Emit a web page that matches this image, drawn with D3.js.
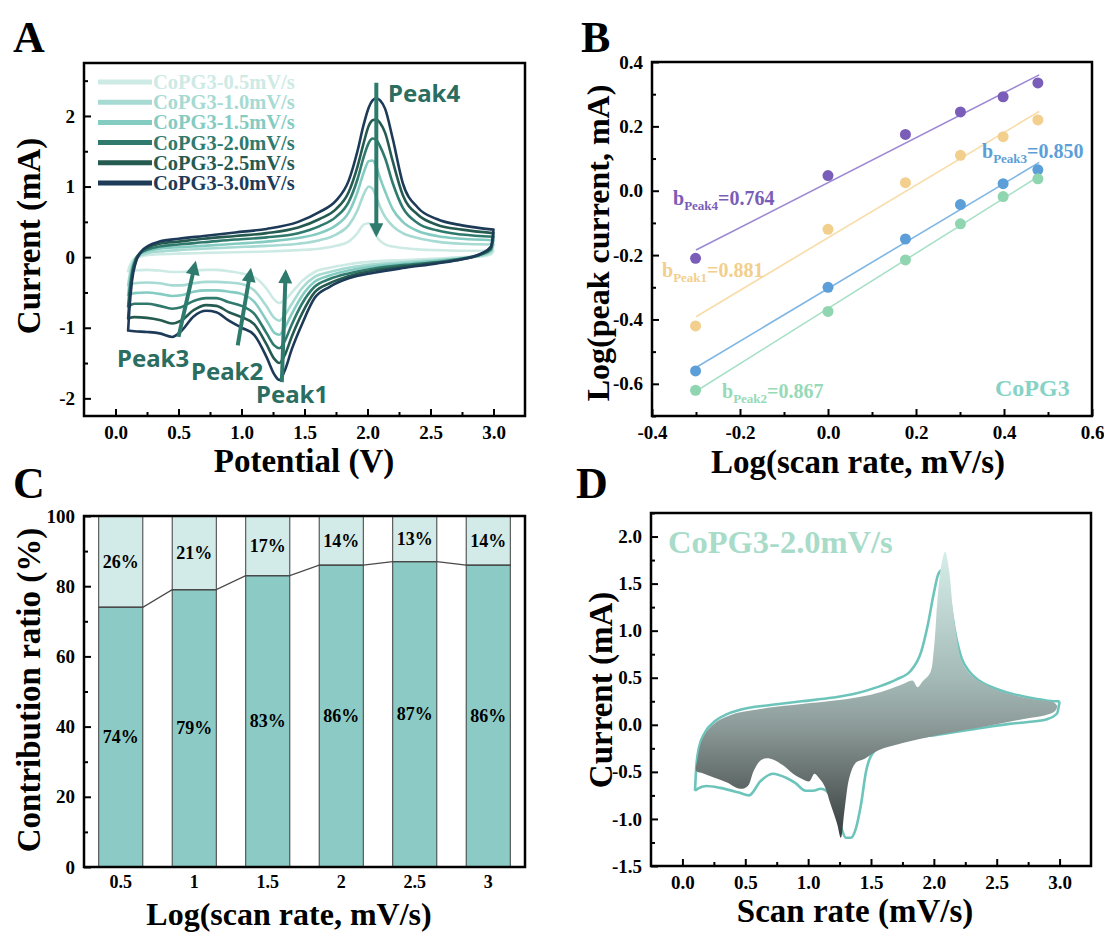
<!DOCTYPE html>
<html>
<head>
<meta charset="utf-8">
<script src="https://cdn.jsdelivr.net/npm/d3@7"></script>
<style>
  body { margin: 0; background: #fff; }
  svg text { font-family: "Liberation Serif", "Times New Roman", serif; font-weight: bold; }
  svg text.sans { font-family: "Noto Sans", "DejaVu Sans", sans-serif; }
</style>
</head>
<body>
<svg id="fig" width="1104" height="933"></svg>
<script>
// ---------- Panel A : CV curves at six scan rates ----------
const rates = ["0.5", "1.0", "1.5", "2.0", "2.5", "3.0"];
const cvColors = ["#cdeae5", "#a6dad2", "#84cbc1", "#2f7a6d", "#255a50", "#1d3b58"];

const potUp = [0.10, 0.11, 0.13, 0.16, 0.20, 0.26, 0.35, 0.50, 0.70, 0.95, 1.20, 1.45, 1.62, 1.75,
  1.85, 1.92, 1.97, 2.01, 2.04, 2.07, 2.10, 2.14, 2.20, 2.28, 2.40, 2.55, 2.75, 3.00];
const up05 = [-0.20, -0.14, -0.06, -0.01, 0.01, 0.03, 0.04, 0.05, 0.06, 0.07, 0.08, 0.10, 0.12, 0.16,
  0.22, 0.34, 0.46, 0.48, 0.40, 0.30, 0.23, 0.18, 0.15, 0.13, 0.11, 0.10, 0.09, 0.09];
const up10 = [-0.40, -0.28, -0.12, -0.01, 0.03, 0.06, 0.08, 0.10, 0.12, 0.14, 0.16, 0.19, 0.24, 0.32,
  0.45, 0.66, 0.89, 1.00, 0.97, 0.85, 0.71, 0.57, 0.44, 0.34, 0.27, 0.22, 0.19, 0.18];
const up15 = [-0.54, -0.38, -0.16, -0.02, 0.05, 0.09, 0.12, 0.14, 0.16, 0.19, 0.22, 0.27, 0.34, 0.45,
  0.63, 0.92, 1.20, 1.36, 1.37, 1.28, 1.12, 0.93, 0.68, 0.50, 0.37, 0.30, 0.26, 0.24];
const up20 = [-0.70, -0.50, -0.22, -0.03, 0.06, 0.11, 0.15, 0.18, 0.21, 0.25, 0.28, 0.34, 0.44, 0.57,
  0.78, 1.10, 1.42, 1.62, 1.68, 1.66, 1.57, 1.40, 1.05, 0.70, 0.48, 0.38, 0.32, 0.29];
const up25 = [-0.87, -0.62, -0.28, -0.05, 0.07, 0.14, 0.19, 0.22, 0.26, 0.30, 0.34, 0.42, 0.54, 0.68,
  0.92, 1.28, 1.62, 1.86, 1.94, 1.95, 1.90, 1.76, 1.36, 0.88, 0.60, 0.46, 0.39, 0.34];
const up30 = [-1.04, -0.75, -0.35, -0.08, 0.07, 0.16, 0.22, 0.26, 0.30, 0.35, 0.40, 0.50, 0.64, 0.80,
  1.08, 1.50, 1.88, 2.12, 2.22, 2.25, 2.22, 2.10, 1.68, 1.05, 0.70, 0.54, 0.45, 0.39];

const potDown = [3.00, 2.98, 2.90, 2.75, 2.55, 2.30, 2.05, 1.85, 1.70, 1.58, 1.48, 1.40, 1.34, 1.30,
  1.26, 1.20, 1.10, 1.00, 0.90, 0.80, 0.72, 0.62, 0.52, 0.45, 0.35, 0.25, 0.15, 0.10];
const dn05 = [0.09, 0.04, 0.01, 0.00, -0.02, -0.04, -0.06, -0.10, -0.15, -0.21, -0.34, -0.50, -0.61, -0.65,
  -0.60, -0.45, -0.28, -0.23, -0.20, -0.18, -0.18, -0.19, -0.21, -0.21, -0.19, -0.18, -0.19, -0.20];
const dn10 = [0.18, 0.07, 0.02, -0.01, -0.04, -0.07, -0.10, -0.15, -0.21, -0.28, -0.44, -0.66, -0.83, -0.90,
  -0.86, -0.70, -0.47, -0.38, -0.36, -0.35, -0.35, -0.37, -0.40, -0.40, -0.37, -0.36, -0.37, -0.40];
const dn15 = [0.24, 0.09, 0.03, -0.02, -0.05, -0.09, -0.13, -0.19, -0.26, -0.35, -0.55, -0.80, -1.01, -1.10,
  -1.07, -0.90, -0.63, -0.52, -0.49, -0.47, -0.47, -0.49, -0.54, -0.55, -0.52, -0.50, -0.51, -0.54];
const dn20 = [0.29, 0.11, 0.04, -0.02, -0.07, -0.11, -0.16, -0.23, -0.31, -0.42, -0.66, -0.95, -1.20, -1.29,
  -1.25, -1.08, -0.80, -0.69, -0.64, -0.58, -0.58, -0.62, -0.71, -0.73, -0.69, -0.66, -0.66, -0.70];
const dn25 = [0.34, 0.13, 0.04, -0.03, -0.08, -0.13, -0.19, -0.27, -0.37, -0.50, -0.80, -1.12, -1.40, -1.50,
  -1.44, -1.24, -0.95, -0.85, -0.78, -0.69, -0.68, -0.75, -0.90, -0.94, -0.89, -0.86, -0.85, -0.87];
const dn30 = [0.39, 0.15, 0.05, -0.03, -0.09, -0.15, -0.22, -0.30, -0.42, -0.58, -0.95, -1.30, -1.62, -1.74,
  -1.66, -1.42, -1.10, -1.00, -0.90, -0.78, -0.76, -0.84, -1.05, -1.13, -1.08, -1.06, -1.05, -1.04];

// peak arrows: [V, I] start and end
const peakArrows = [
  { name: "Peak4", from: [2.07, 2.47], to: [2.07, 0.34] },
  { name: "Peak3", from: [0.50, -1.13], to: [0.63, -0.11] },
  { name: "Peak2", from: [0.97, -1.25], to: [1.07, -0.21] },
  { name: "Peak1", from: [1.32, -1.77], to: [1.35, -0.23] }
];

// ---------- Panel B : log(i) vs log(v) ----------
const logRate = [-0.301, 0, 0.176, 0.301, 0.398, 0.477];
const logPeak4 = [-0.21, 0.047, 0.175, 0.245, 0.292, 0.335];
const logPeak1 = [-0.42, -0.12, 0.025, 0.11, 0.168, 0.22];
const logPeak3 = [-0.56, -0.30, -0.15, -0.043, 0.022, 0.065];
const logPeak2 = [-0.62, -0.375, -0.215, -0.103, -0.018, 0.037];
const bLabels = ["Peak4", "Peak1", "Peak3", "Peak2"];
const bValues = ["0.764", "0.881", "0.850", "0.867"];

// ---------- Panel C : contribution ratio ----------
const scanRates = ["0.5", "1", "1.5", "2", "2.5", "3"];
const capPct = [74, 79, 83, 86, 87, 86];
const diffPct = [26, 21, 17, 14, 13, 14];

// ---------- Panel D : CV at 2.0 mV/s with capacitive region ----------
const dOutlineUp = [[0.10, -0.70], [0.11, -0.45], [0.13, -0.25], [0.18, -0.08], [0.26, 0.04], [0.35, 0.11],
  [0.46, 0.16], [0.70, 0.21], [0.95, 0.25], [1.20, 0.29], [1.37, 0.33], [1.55, 0.40], [1.70, 0.48],
  [1.82, 0.58], [1.90, 0.78], [1.95, 1.05], [2.00, 1.40], [2.03, 1.58], [2.06, 1.64], [2.09, 1.58],
  [2.13, 1.30], [2.17, 0.98], [2.22, 0.71], [2.28, 0.57], [2.36, 0.47], [2.50, 0.38], [2.62, 0.33],
  [2.80, 0.28], [2.95, 0.25], [3.00, 0.25]];
const dOutlineDown = [[3.00, 0.25], [2.98, 0.12], [2.90, 0.06], [2.75, 0.03], [2.60, 0.01], [2.30, -0.05],
  [2.06, -0.10], [1.80, -0.15], [1.64, -0.20], [1.52, -0.29], [1.46, -0.50], [1.42, -0.85], [1.38, -1.10],
  [1.34, -1.20], [1.30, -1.20], [1.26, -1.08], [1.22, -0.92], [1.16, -0.72], [1.10, -0.68], [1.04, -0.70],
  [0.98, -0.70], [0.90, -0.62], [0.82, -0.56], [0.72, -0.52], [0.62, -0.60], [0.53, -0.75], [0.45, -0.72],
  [0.30, -0.67], [0.19, -0.65], [0.12, -0.68], [0.10, -0.70]];
const dCapacitive = [[0.11, -0.49], [0.12, -0.36], [0.15, -0.18], [0.20, -0.06], [0.26, 0.02], [0.34, 0.08],
  [0.45, 0.13], [0.68, 0.18], [0.95, 0.22], [1.23, 0.26], [1.50, 0.32], [1.65, 0.38], [1.75, 0.43],
  [1.83, 0.47], [1.87, 0.40], [1.91, 0.46], [1.97, 0.55], [2.00, 0.80], [2.03, 1.35], [2.06, 1.70],
  [2.09, 1.84], [2.12, 1.65], [2.15, 1.25], [2.18, 0.95], [2.22, 0.68], [2.30, 0.52], [2.45, 0.40],
  [2.62, 0.32], [2.80, 0.27], [2.95, 0.24], [2.98, 0.20], [2.96, 0.14], [2.88, 0.10], [2.75, 0.07],
  [2.55, 0.02], [2.36, -0.03], [2.15, -0.08], [1.96, -0.13], [1.76, -0.19], [1.56, -0.27], [1.45, -0.36],
  [1.38, -0.40], [1.33, -0.55], [1.29, -0.90], [1.26, -1.20], [1.23, -1.05], [1.18, -0.85], [1.13, -0.65],
  [1.09, -0.57], [1.05, -0.52], [1.01, -0.60], [0.96, -0.58], [0.88, -0.52], [0.80, -0.43], [0.70, -0.36],
  [0.63, -0.37], [0.57, -0.48], [0.52, -0.65], [0.46, -0.68], [0.35, -0.61], [0.25, -0.56], [0.15, -0.51]];

const svg = d3.select("#fig");
const fix = (p) => (v) => v.toFixed(p);

// inward-ticked frame in the Origin style
function drawAxes(g, x, y, o) {
  const [xl, xr] = x.range();
  const [yb, yt] = y.range();
  const style = (a) => {
    a.select(".domain").remove();
    a.attr("font-family", null).attr("font-size", null);
    a.selectAll("line").attr("stroke", "#000").attr("stroke-width", 2);
    a.selectAll("text").attr("font-size", o.fs || 19).attr("fill", "#000");
  };
  if (o.xMajor) {
    g.append("g").attr("transform", `translate(0,${yb})`)
      .call(d3.axisBottom(x).tickValues(o.xMinor).tickSize(-4).tickFormat("")).call(style);
    g.append("g").attr("transform", `translate(0,${yb})`)
      .call(d3.axisBottom(x).tickValues(o.xMajor).tickSize(-7).tickPadding(10).tickFormat(o.xFmt)).call(style);
  }
  g.append("g").attr("transform", `translate(${xl},0)`)
    .call(d3.axisLeft(y).tickValues(o.yMinor).tickSize(-4).tickFormat("")).call(style);
  g.append("g").attr("transform", `translate(${xl},0)`)
    .call(d3.axisLeft(y).tickValues(o.yMajor).tickSize(-7).tickPadding(9).tickFormat(o.yFmt)).call(style);
}
function drawFrame(g, x, y) {
  const [xl, xr] = x.range();
  const [yb, yt] = y.range();
  g.append("rect").attr("x", xl).attr("y", yt).attr("width", xr - xl).attr("height", yb - yt)
    .attr("fill", "none").attr("stroke", "#000").attr("stroke-width", 2.5);
}
function title(g, txt, x, y, rot, size) {
  g.append("text").attr("transform", `translate(${x},${y})` + (rot ? " rotate(-90)" : ""))
    .attr("text-anchor", "middle").attr("font-size", size || 33).text(txt);
}
function letter(txt, x, y) {
  svg.append("text").attr("x", x).attr("y", y).attr("font-size", 44).text(txt);
}

// ================= Panel A =================
const gA = svg.append("g");
const xA = d3.scaleLinear().domain([-0.25, 3.25]).range([84, 525]);
const yA = d3.scaleLinear().domain([-2.25, 2.75]).range([416, 63]);
drawAxes(gA, xA, yA, {
  xMajor: d3.range(0, 3.01, 0.5), xMinor: d3.range(0.25, 3.0, 0.5), xFmt: fix(1),
  yMajor: [-2, -1, 0, 1, 2], yMinor: [-1.5, -0.5, 0.5, 1.5, 2.5], yFmt: fix(0)
});
const upSets = [up05, up10, up15, up20, up25, up30];
const dnSets = [dn05, dn10, dn15, dn20, dn25, dn30];
const cvLine = d3.line().x((d) => xA(d[0])).y((d) => yA(d[1])).curve(d3.curveMonotoneX);
rates.forEach((r, i) => {
  const up = potUp.map((v, k) => [v, upSets[i][k]]);
  const dn = potDown.map((v, k) => [v, dnSets[i][k]]).reverse();
  gA.append("path").attr("d", cvLine(up) + cvLine(dn))
    .attr("fill", "none").attr("stroke", cvColors[i]).attr("stroke-width", 2.6)
    .attr("stroke-linejoin", "round").attr("stroke-linecap", "round");
});
// legend
rates.forEach((r, i) => {
  const ly = 82 + i * 20.2;
  gA.append("line").attr("x1", 98).attr("x2", 152).attr("y1", ly).attr("y2", ly)
    .attr("stroke", cvColors[i]).attr("stroke-width", 5);
  gA.append("text").attr("x", 153).attr("y", ly + 7).attr("font-size", 20.5)
    .attr("fill", cvColors[i]).text(`CoPG3-${r}mV/s`);
});
// arrows
const defs = svg.append("defs");
defs.append("marker").attr("id", "arr").attr("viewBox", "0 0 10 10").attr("refX", 7).attr("refY", 5)
  .attr("markerWidth", 17).attr("markerHeight", 14).attr("markerUnits", "userSpaceOnUse").attr("orient", "auto")
  .append("path").attr("d", "M0,0 L10,5 L0,10 z").attr("fill", "#2e7b6e");
peakArrows.forEach((a) => {
  gA.append("line").attr("x1", xA(a.from[0])).attr("y1", yA(a.from[1]))
    .attr("x2", xA(a.to[0])).attr("y2", yA(a.to[1]))
    .attr("stroke", "#2e7b6e").attr("stroke-width", 4).attr("marker-end", "url(#arr)");
});
const peakText = [["Peak4", 388, 102], ["Peak3", 117, 367], ["Peak2", 191, 380], ["Peak1", 256, 403]];
peakText.forEach(([t, x, y]) => {
  gA.append("text").attr("class", "sans").attr("x", x).attr("y", y).attr("font-size", 24)
    .attr("fill", "#2a6d61").text(t);
});
drawFrame(gA, xA, yA);
title(gA, "Potential (V)", 304, 472);
title(gA, "Current (mA)", 40, 236, true);
letter("A", 13, 52);

// ================= Panel B =================
const gB = svg.append("g");
const xB = d3.scaleLinear().domain([-0.4, 0.6]).range([652, 1092]);
const yB = d3.scaleLinear().domain([-0.7, 0.4]).range([416, 62]);
drawAxes(gB, xB, yB, {
  xMajor: [-0.4, -0.2, 0, 0.2, 0.4, 0.6], xMinor: [-0.3, -0.1, 0.1, 0.3, 0.5], xFmt: fix(1),
  yMajor: [-0.6, -0.4, -0.2, 0, 0.2, 0.4], yMinor: [-0.7, -0.5, -0.3, -0.1, 0.1, 0.3], yFmt: fix(1)
});
const bSeries = [logPeak4, logPeak1, logPeak3, logPeak2];
const bPoint = ["#7a5db8", "#f2cf8c", "#5c9fd8", "#8fd5b0"];
const bLine = ["#9d89d3", "#f8dca8", "#7fb6e3", "#a8e0c6"];
bSeries.forEach((s, i) => {
  // least-squares fit through the measured points
  const mx = d3.mean(logRate), my = d3.mean(s);
  const slope = d3.sum(logRate, (v, k) => (v - mx) * (s[k] - my)) / d3.sum(logRate, (v) => (v - mx) ** 2);
  const fit = [-0.3, 0.48].map((v) => [v, my + slope * (v - mx)]);
  gB.append("line").attr("x1", xB(fit[0][0])).attr("y1", yB(fit[0][1]))
    .attr("x2", xB(fit[1][0])).attr("y2", yB(fit[1][1]))
    .attr("stroke", bLine[i]).attr("stroke-width", 1.6);
  gB.selectAll(null).data(s).join("circle")
    .attr("cx", (d, k) => xB(logRate[k])).attr("cy", (d) => yB(d)).attr("r", 5.5)
    .attr("fill", bPoint[i]);
});
const bPos = [[673, 205], [662, 277], [982, 158], [722, 398]];
const bText = ["#7a5db8", "#f2cf8c", "#5c9fd8", "#96dab7"];
bLabels.forEach((lab, i) => {
  const t = gB.append("text").attr("x", bPos[i][0]).attr("y", bPos[i][1]).attr("font-size", 20)
    .attr("fill", bText[i]);
  t.append("tspan").text("b");
  t.append("tspan").attr("font-size", 13).attr("dy", 5).text(lab);
  t.append("tspan").attr("dy", -5).text("=" + bValues[i]);
});
gB.append("text").attr("x", 995).attr("y", 396).attr("font-size", 24).attr("fill", "#86d2c6").text("CoPG3");
drawFrame(gB, xB, yB);
title(gB, "Log(scan rate, mV/s)", 858, 473);
title(gB, "Log(peak current, mA)", 609, 243, true, 32);
letter("B", 581, 52);

// ================= Panel C =================
const gC = svg.append("g");
const xC = d3.scaleBand().domain(scanRates).range([84, 525]).paddingInner(0.4).paddingOuter(0.2);
const yC = d3.scaleLinear().domain([0, 100]).range([867, 516]);
const bw = xC.bandwidth();
gC.selectAll(".cap").data(scanRates).join("rect")
  .attr("x", (d) => xC(d)).attr("width", bw)
  .attr("y", (d, i) => yC(capPct[i])).attr("height", (d, i) => yC(0) - yC(capPct[i]))
  .attr("fill", "#8ccbc5").attr("stroke", "#3d3d3d").attr("stroke-width", 1);
gC.selectAll(".dif").data(scanRates).join("rect")
  .attr("x", (d) => xC(d)).attr("width", bw)
  .attr("y", yC(100)).attr("height", (d, i) => yC(capPct[i]) - yC(100))
  .attr("fill", "#d2ebe8").attr("stroke", "#3d3d3d").attr("stroke-width", 1);
const topPts = scanRates.flatMap((d, i) => [[xC(d), yC(capPct[i])], [xC(d) + bw, yC(capPct[i])]]);
gC.append("path").attr("d", d3.line()(topPts)).attr("fill", "none").attr("stroke", "#4a4a4a").attr("stroke-width", 1.3);
scanRates.forEach((d, i) => {
  gC.append("text").attr("x", xC(d) + bw / 2).attr("y", yC(capPct[i] / 2) + 6)
    .attr("text-anchor", "middle").attr("font-size", 18).text(capPct[i] + "%");
  gC.append("text").attr("x", xC(d) + bw / 2).attr("y", yC(capPct[i] + diffPct[i] / 2) + 6)
    .attr("text-anchor", "middle").attr("font-size", 18).text(diffPct[i] + "%");
});
drawAxes(gC, xC, yC, {
  yMajor: [0, 20, 40, 60, 80, 100], yMinor: [10, 30, 50, 70, 90], yFmt: fix(0)
});
gC.append("g").attr("transform", "translate(0,867)")
  .call(d3.axisBottom(xC).tickSize(0).tickPadding(8))
  .call((a) => {
    a.select(".domain").remove();
    a.attr("font-family", null).attr("font-size", null);
    a.selectAll("text").attr("font-size", 18).attr("fill", "#000");
  });
drawFrame(gC, d3.scaleLinear().range([84, 525]), yC);
title(gC, "Log(scan rate, mV/s)", 289, 925, false, 32);
title(gC, "Contribution ratio (%)", 40, 690, true);
letter("C", 13, 498);

// ================= Panel D =================
const gD = svg.append("g");
const xD = d3.scaleLinear().domain([-0.25, 3.25]).range([651, 1091]);
const yD = d3.scaleLinear().domain([-1.5, 2.25]).range([866, 513]);
drawAxes(gD, xD, yD, {
  xMajor: d3.range(0, 3.01, 0.5), xMinor: d3.range(0.25, 3.0, 0.5), xFmt: fix(1),
  yMajor: d3.range(-1.5, 2.01, 0.5), yMinor: d3.range(-1.25, 2.26, 0.5), yFmt: fix(1)
});
const grad = defs.append("linearGradient").attr("id", "capGrad").attr("gradientUnits", "userSpaceOnUse")
  .attr("x1", 0).attr("x2", 0).attr("y1", yD(1.84)).attr("y2", yD(-1.2));
[[0, "#d6eeea"], [0.45, "#a3b9b6"], [0.6, "#8e9d9b"], [0.8, "#626c6b"], [1, "#373e3d"]].forEach(([o, c]) => {
  grad.append("stop").attr("offset", o).attr("stop-color", c);
});
const dLine = d3.line().x((d) => xD(d[0])).y((d) => yD(d[1]));
gD.append("path")
  .attr("d", dLine.curve(d3.curveMonotoneX)(dOutlineUp) + dLine.curve(d3.curveMonotoneX)(dOutlineDown.slice().reverse()))
  .attr("fill", "none").attr("stroke", "#6cc4bb").attr("stroke-width", 2.6).attr("stroke-linejoin", "round");
gD.append("path").attr("d", dLine.curve(d3.curveCatmullRomClosed.alpha(0.5))(dCapacitive))
  .attr("fill", "url(#capGrad)");
gD.append("text").attr("x", 668).attr("y", 553).attr("font-size", 32.5).attr("fill", "#a8dcc9").text("CoPG3-2.0mV/s");
drawFrame(gD, xD, yD);
title(gD, "Scan rate (mV/s)", 855, 922);
title(gD, "Current (mA)", 612, 690, true);
letter("D", 576, 498);
</script>
</body>
</html>
